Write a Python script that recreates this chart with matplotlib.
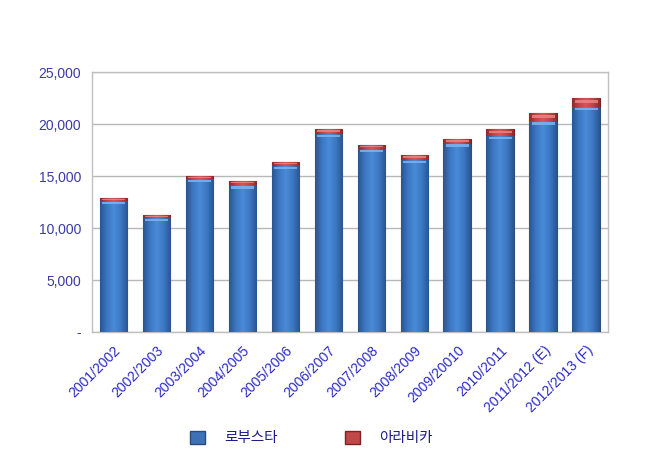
import matplotlib
matplotlib.use("Agg")
from matplotlib import pyplot as plt
from matplotlib.colors import LinearSegmentedColormap
from matplotlib.patches import Patch
import numpy as np

seasons = ['2001/2002', '2002/2003', '2003/2004', '2004/2005', '2005/2006',
           '2006/2007', '2007/2008', '2008/2009', '2009/20010', '2010/2011',
           '2011/2012 (E)', '2012/2013 (F)']
robusta = np.array([12600, 10950, 14700, 14100, 15950, 19050,
                    17600, 16550, 18100, 18850, 20250, 21650])
arabica = np.array([250, 300, 300, 400, 400, 450,
                    400, 450, 450, 650, 800, 850])
yticks = [0, 5000, 10000, 15000, 20000, 25000]
ytick_labels = ['-', '5,000', '10,000', '15,000', '20,000', '25,000']

fig = plt.figure(figsize=(6.51, 4.54), dpi=100)
ax = fig.add_axes([0.1413, 0.2687, 0.7926, 0.5727])

x = np.arange(len(seasons))
w = 0.65

blue_cm = LinearSegmentedColormap.from_list(
    'b', ['#2a5590', '#3c78c4', '#4a8ad6', '#3c78c4', '#2a5590'])
red_cm = LinearSegmentedColormap.from_list(
    'r', ['#8e2a2a', '#c24444', '#d45656', '#c24444', '#8e2a2a'])
grad = np.linspace(0, 1, 64).reshape(1, -1)

blue_bars = ax.bar(x, robusta, width=w, color='#3c78c4',
                   edgecolor='#2b4f80', linewidth=0.8, zorder=3)
red_bars = ax.bar(x, arabica, width=w, bottom=robusta, color='#c24444',
                  edgecolor='#7a2020', linewidth=0.8, zorder=3)

# horizontal shading inside each bar for the rounded look
for bars, cm in ((blue_bars, blue_cm), (red_bars, red_cm)):
    for b in bars:
        x0, y0 = b.get_x(), b.get_y()
        im = ax.imshow(grad, cmap=cm, aspect='auto', zorder=3.5,
                       extent=(x0, x0 + b.get_width(), y0, y0 + b.get_height()))
        im.set_clip_path(b)

# light highlight at the top of every segment
for i in x:
    ax.bar(i, 250, width=w * 0.82, bottom=robusta[i] - 320,
           color='#7fb4ee', alpha=0.85, linewidth=0, zorder=4)
    ax.bar(i, arabica[i] * 0.35, width=w * 0.82,
           bottom=robusta[i] + arabica[i] * 0.45,
           color='#ea8a8a', alpha=0.8, linewidth=0, zorder=4)

ax.set_xlim(-0.5, len(seasons) - 0.5)
ax.set_ylim(0, 25000)
ax.set_yticks(yticks)
ax.set_yticklabels(ytick_labels, fontsize=10, color='#3a3aa8',
                   family='Liberation Sans')
ax.set_xticks(x)
ax.set_xticklabels(seasons, rotation=45, ha='right', va='top',
                   rotation_mode='anchor', fontsize=10, color='#2a2ac8',
                   family='Liberation Sans')
ax.tick_params(axis='both', length=0, pad=8)
ax.tick_params(axis='x', pad=8)
ax.yaxis.grid(True, color='#b8b8b8', linewidth=1, zorder=0)
for s in ax.spines.values():
    s.set_color('#c0c0c0')
    s.set_linewidth(1)

handles = [Patch(facecolor='#3d72b8', edgecolor='#2b4a78', linewidth=1),
           Patch(facecolor='#c04848', edgecolor='#7a2424', linewidth=1)]
fig.legend(handles, ['로부스타', '아라비카'], loc='center',
           bbox_to_anchor=(0.478, 0.035), ncol=2, frameon=False,
           handlelength=1.0, handleheight=1.0, handletextpad=1.3,
           columnspacing=4.65,
           prop={'family': ['Noto Sans CJK KR', 'DejaVu Sans'], 'size': 10.5})
for t in fig.legends[0].get_texts():
    t.set_color('#1c1c90')

fig.savefig('out.png', dpi=100)
